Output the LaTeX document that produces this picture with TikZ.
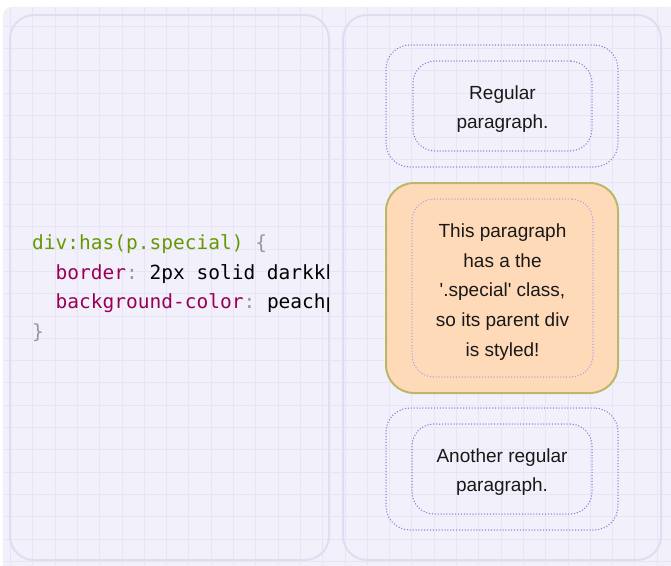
\documentclass[tikz,border=0pt]{standalone}
\usepackage{fontspec}
\setmainfont{Liberation Sans}
\setmonofont{DejaVu Sans Mono}
\definecolor{bgpurple}{RGB}{242,240,251}
\definecolor{gridline}{RGB}{232,228,245}
\definecolor{panelline}{RGB}{226,220,241}
\definecolor{dotline}{RGB}{150,120,218}
\definecolor{peachpuff}{RGB}{255,218,185}
\definecolor{darkkhaki}{RGB}{189,183,107}
\definecolor{selgreen}{RGB}{102,153,0}
\definecolor{propred}{RGB}{153,0,85}
\definecolor{punctgray}{RGB}{153,153,153}
\begin{document}
\begin{tikzpicture}[x=1pt, y=-1pt,
  panel/.style={draw=panelline, line width=2pt, rounded corners=24pt, minimum height=545pt},
  dotbox/.style={draw=dotline, line width=1.5pt, line cap=round, dash pattern=on 0pt off 2.9pt},
  outerbox/.style={dotbox, rounded corners=24pt, minimum width=232pt, minimum height=122pt},
  innerbox/.style={dotbox, rounded corners=22pt, minimum width=179pt, minimum height=90pt},
  ptext/.style={align=center, font=\fontsize{19}{29.7}\selectfont, text=black!90},
  specialbox/.style={fill=peachpuff, draw=darkkhaki, line width=2pt, rounded corners=28pt,
    minimum width=232pt, minimum height=210pt}]
\useasboundingbox (0,0) rectangle (671,565);
\fill[white] (0,0) rectangle (671,565);
\begin{scope}
  \clip (0,0) rectangle (671,565);
  \filldraw[fill=bgpurple, draw=black!8, rounded corners=10pt] (3,7) rectangle (690,590);
  % grid
  \foreach \gx in {0,...,29} \draw[gridline, line width=0.8pt] (10.4+22.3*\gx,7.5) -- (10.4+22.3*\gx,565);
  \foreach \gy in {1,...,25} \draw[gridline, line width=0.8pt] (3.5,3.7+22.3*\gy) -- (671,3.7+22.3*\gy);
\end{scope}

\node[panel, minimum width=319pt] (codepanel) at (169.5,287.5) {};
\node[panel, minimum width=318pt] (demopanel) at (502,287.5) {};

\begin{scope}
  \clip ([xshift=1pt]codepanel.south west) rectangle ([xshift=-2pt]codepanel.north east);
  \node[anchor=west, align=left, inner sep=0pt, font=\ttfamily\fontsize{19.5}{29.5}\selectfont] (code) at (32,288)
  {\textcolor{selgreen}{div:has(p.special)} \textcolor{punctgray}{\{}\\
   \phantom{xx}\textcolor{propred}{border}\textcolor{punctgray}{:} 2px solid darkkhaki;\\
   \phantom{xx}\textcolor{propred}{background-color}\textcolor{punctgray}{:} peachpuff;\\
   \textcolor{punctgray}{\}}};
\end{scope}

\node[outerbox] (div1) at (502,106) {};
\node[innerbox] (p1) at (502.5,106) {};
\node[ptext] (p1text) at ([yshift=-3pt]p1.center) {Regular\\paragraph.};

\node[specialbox] (div2) at (502,288) {};
\node[innerbox, minimum width=181pt, minimum height=178pt, draw=dotline!70] (p2) at (502.5,288) {};
\node[ptext] (p2text) at ([yshift=-4pt]p2.center)
  {This paragraph\\has a the\\\textquotesingle.special\textquotesingle{} class,\\so its parent div\\is styled!};

\node[outerbox] (div3) at (502,469) {};
\node[innerbox, minimum width=180pt] (p3) at (502,469) {};
\node[ptext] (p3text) at ([yshift=-3pt]p3.center) {Another regular\\paragraph.};
\end{tikzpicture}
\end{document}
